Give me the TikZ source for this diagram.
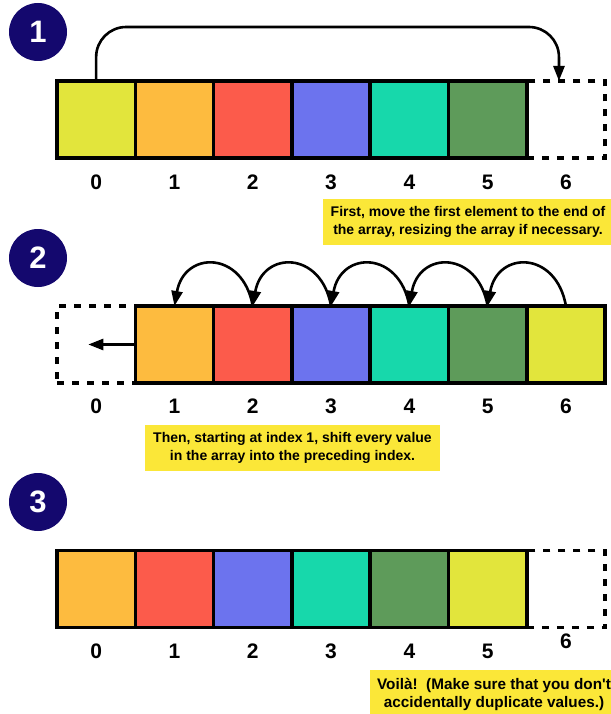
\documentclass[tikz,border=0pt]{standalone}
\usepackage{fontspec}
\setmainfont{Liberation Sans}
\usetikzlibrary{arrows.meta,positioning}
\definecolor{lime}{RGB}{226,229,60}
\definecolor{amber}{RGB}{253,187,63}
\definecolor{coral}{RGB}{252,91,75}
\definecolor{periwinkle}{RGB}{108,115,238}
\definecolor{aqua}{RGB}{23,216,171}
\definecolor{moss}{RGB}{94,155,90}
\definecolor{noteyellow}{RGB}{251,231,56}
\definecolor{navy}{RGB}{20,8,110}
\tikzstyle{cell} = [rectangle, draw, line width=3.5pt, minimum width=78.3pt, minimum height=77pt, inner sep=0pt, outer sep=0pt]
\tikzstyle{ghost} = [cell, dash pattern=on 7pt off 8pt]
\tikzstyle{idx} = [inner sep=0pt, font=\fontsize{21}{21}\selectfont\bfseries]
\tikzstyle{note} = [fill=noteyellow, align=center, inner xsep=8pt, inner ysep=7.5pt, font=\fontsize{14}{18}\selectfont\bfseries]
\tikzstyle{badge} = [circle, fill=navy, text=white, minimum size=58pt, inner sep=0pt, font=\fontsize{31}{31}\selectfont\bfseries]
\tikzstyle{line} = [draw, line width=2.6pt, -{Triangle[length=15pt,width=11pt]}]

\begin{document}
\begin{tikzpicture}[x=1pt, y=1pt]
    \useasboundingbox (0,0) rectangle (610,-714);
    % step 1
    \node [badge] (b1) at (38,-32) {1};
    \node [cell, fill=lime] (c10) at (96.15,-119.5) {};
    \node [cell, fill=amber, right=0pt of c10] (c11) {};
    \node [cell, fill=coral, right=0pt of c11] (c12) {};
    \node [cell, fill=periwinkle, right=0pt of c12] (c13) {};
    \node [cell, fill=aqua, right=0pt of c13] (c14) {};
    \node [cell, fill=moss, right=0pt of c14] (c15) {};
    \node [ghost, right=0pt of c15] (g16) {};
    \foreach \i/\c in {0/c10,1/c11,2/c12,3/c13,4/c14,5/c15,6/g16}
        \node [idx, below=16.5pt of \c] (l1\i) {\i};
    \coordinate (top1) at (330,-27);
    \coordinate (tip1) at ([xshift=-7pt]g16.north);
    \path [line, rounded corners=30pt] (c10.north) |- (top1) -| (tip1);
    \node [note] (n1) at (468,-222) {First, move the first element to the end of\\the array, resizing the array if necessary.};

    % step 2
    \node [badge] (b2) at (38,-258) {2};
    \node [ghost] (g20) at (96.15,-344.5) {};
    \node [cell, fill=amber, right=0pt of g20] (c21) {};
    \node [cell, fill=coral, right=0pt of c21] (c22) {};
    \node [cell, fill=periwinkle, right=0pt of c22] (c23) {};
    \node [cell, fill=aqua, right=0pt of c23] (c24) {};
    \node [cell, fill=moss, right=0pt of c24] (c25) {};
    \node [cell, fill=lime, right=0pt of c25] (c26) {};
    \foreach \i/\c in {0/g20,1/c21,2/c22,3/c23,4/c24,5/c25,6/c26}
        \node [idx, below=16pt of \c] (l2\i) {\i};
    \foreach \a/\b in {c22/c21,c23/c22,c24/c23,c25/c24,c26/c25}
        \path [line] (\a.north) to[out=100, in=80, looseness=1.85] (\b.north);
    \coordinate (out2) at ([xshift=-47pt]c21.west);
    \path [line] (c21.west) -- (out2);
    \node [note] (n2) at (292.5,-448) {Then, starting at index 1, shift every value\\in the array into the preceding index.};

    % step 3
    \node [badge] (b3) at (38,-502) {3};
    \node [cell, fill=amber] (c30) at (96.15,-589) {};
    \node [cell, fill=coral, right=0pt of c30] (c31) {};
    \node [cell, fill=periwinkle, right=0pt of c31] (c32) {};
    \node [cell, fill=aqua, right=0pt of c32] (c33) {};
    \node [cell, fill=moss, right=0pt of c33] (c34) {};
    \node [cell, fill=lime, right=0pt of c34] (c35) {};
    \node [ghost, right=0pt of c35] (g36) {};
    \foreach \i/\c in {0/c30,1/c31,2/c32,3/c33,4/c34,5/c35}
        \node [idx, below=16.5pt of \c] (l3\i) {\i};
    \node [idx, below=6.5pt of g36] (l36) {6};
    \node [note, inner xsep=7pt, font=\fontsize{15.3}{18}\selectfont\bfseries] (n3) at (494,-694) {Voilà!\ \ (Make sure that you don\textquotesingle t\\accidentally duplicate values.)};
\end{tikzpicture}
\end{document}
